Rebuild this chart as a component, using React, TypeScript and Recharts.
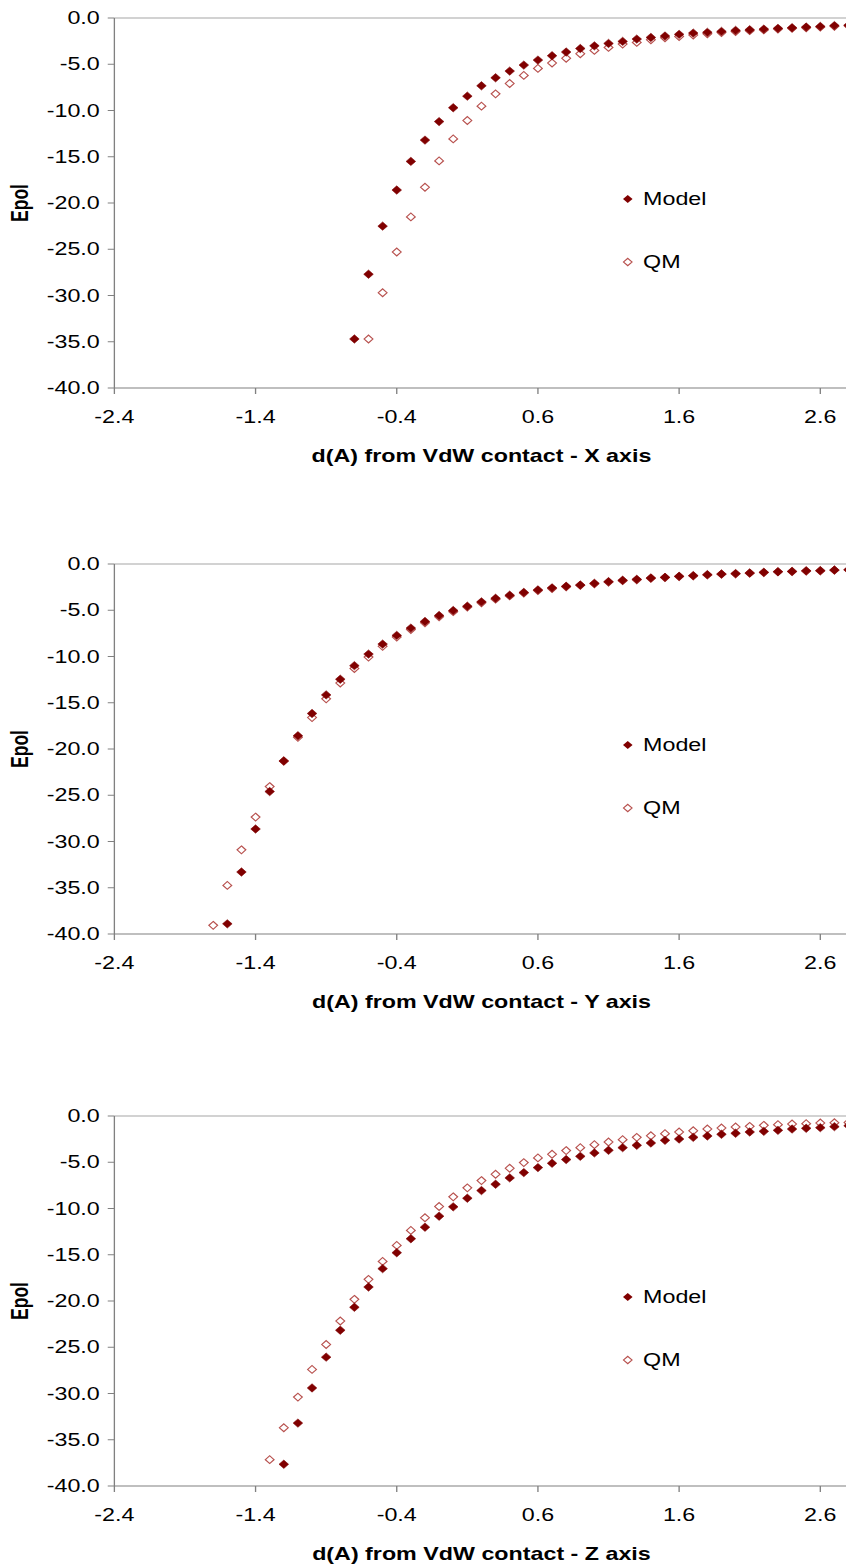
import { Legend, ReferenceLine, Scatter, ScatterChart, XAxis, YAxis } from 'recharts';

// distance from VdW contact (A), shared by all three scans
const dist = [
  -1.7, -1.6, -1.5, -1.4, -1.3, -1.2, -1.1, -1.0, -0.9, -0.8,
  -0.7, -0.6, -0.5, -0.4, -0.3, -0.2, -0.1, 0.0, 0.1, 0.2,
  0.3, 0.4, 0.5, 0.6, 0.7, 0.8, 0.9, 1.0, 1.1, 1.2,
  1.3, 1.4, 1.5, 1.6, 1.7, 1.8, 1.9, 2.0, 2.1, 2.2,
  2.3, 2.4, 2.5, 2.6, 2.7, 2.8,
];

// each series runs out to the last distance; shorter ones start later
const modelX = [
  -34.7, -27.7, -22.5, -18.6, -15.5, -13.2, -11.2, -9.7, -8.45, -7.33,
  -6.46, -5.74, -5.09, -4.55, -4.08, -3.68, -3.3, -3.01, -2.75, -2.53,
  -2.28, -2.1, -1.95, -1.77, -1.63, -1.55, -1.45, -1.34, -1.27, -1.2,
  -1.12, -1.05, -0.98, -0.91, -0.82, -0.78,
];
const qmX = [
  -34.7, -29.7, -25.3, -21.5, -18.3, -15.45, -13.07, -11.08, -9.53, -8.2,
  -7.08, -6.21, -5.45, -4.87, -4.35, -3.87, -3.5, -3.18, -2.82, -2.64,
  -2.35, -2.13, -2.0, -1.84, -1.7, -1.58, -1.46, -1.37, -1.29, -1.2,
  -1.12, -1.05, -0.98, -0.9, -0.85,
];

const modelY = [
  -38.9, -33.3, -28.65, -24.6, -21.3, -18.57, -16.16, -14.15, -12.46, -10.99,
  -9.74, -8.66, -7.72, -6.93, -6.21, -5.57, -5.03, -4.56, -4.09, -3.71,
  -3.37, -3.07, -2.8, -2.58, -2.41, -2.27, -2.09, -1.91, -1.76, -1.66,
  -1.51, -1.44, -1.33, -1.26, -1.15, -1.08, -1.04, -0.97, -0.9, -0.83,
  -0.8, -0.74, -0.72, -0.65, -0.62,
];
const qmY = [
  -39.06, -34.75, -30.9, -27.36, -24.06, -21.3, -18.74, -16.6, -14.58, -12.86,
  -11.3, -10.06, -8.9, -7.9, -7.08, -6.35, -5.7, -5.15, -4.66, -4.2,
  -3.8, -3.45, -3.14, -2.87, -2.65, -2.46, -2.31, -2.13, -1.95, -1.8,
  -1.7, -1.55, -1.47, -1.36, -1.28, -1.18, -1.1, -1.06, -0.99, -0.92,
  -0.85, -0.81, -0.76, -0.73, -0.67, -0.63,
];

const modelZ = [
  -37.65, -33.2, -29.4, -26.07, -23.16, -20.68, -18.49, -16.5, -14.78, -13.27,
  -12.02, -10.83, -9.82, -8.89, -8.06, -7.38, -6.69, -6.12, -5.58, -5.11,
  -4.71, -4.36, -3.99, -3.71, -3.42, -3.17, -2.92, -2.63, -2.49, -2.31,
  -2.16, -1.98, -1.87, -1.73, -1.66, -1.55, -1.41, -1.33, -1.26, -1.15,
  -1.05,
];
const qmZ = [
  -37.15, -33.7, -30.39, -27.4, -24.7, -22.16, -19.82, -17.66, -15.72, -13.99,
  -12.37, -11.0, -9.78, -8.74, -7.77, -6.98, -6.3, -5.65, -5.04, -4.53,
  -4.14, -3.74, -3.42, -3.1, -2.81, -2.56, -2.31, -2.13, -1.91, -1.73,
  -1.59, -1.41, -1.3, -1.19, -1.12, -1.01, -0.94, -0.87, -0.83, -0.76,
  -0.73, -0.7,
];

const xTicks = [-2.4, -1.4, -0.4, 0.6, 1.6, 2.6];
const yTicks = [-40, -35, -30, -25, -20, -15, -10, -5, 0];

const FONT = '"Liberation Sans", Arial, sans-serif';
const MAROON = '#800000';
const QM_RED = '#b8524f';
const AXIS = '#808080';
// the source picture is stretched sideways, text and markers included
const STRETCH = 1.33;

type Pt = { x: number; y: number };

function toPoints(values: number[]): Pt[] {
  const start = dist.length - values.length;
  return values.map((y, i) => ({ x: dist[start + i], y }));
}

function FilledDiamond(props: any) {
  const { cx, cy } = props;
  if (cx == null || cy == null) return null;
  return (
    <polygon
      points={`${cx},${cy - 4.2} ${cx + 3.6},${cy} ${cx},${cy + 4.2} ${cx - 3.6},${cy}`}
      fill={MAROON}
      stroke={MAROON}
      strokeWidth={0.5}
    />
  );
}

function OpenDiamond(props: any) {
  const { cx, cy } = props;
  if (cx == null || cy == null) return null;
  return (
    <polygon
      points={`${cx},${cy - 3.9} ${cx + 3.3},${cy} ${cx},${cy + 3.9} ${cx - 3.3},${cy}`}
      fill="none"
      stroke={QM_RED}
      strokeWidth={1}
    />
  );
}

function LegendBox() {
  const row = { display: 'flex', alignItems: 'center', height: 20 } as const;
  const label = { marginLeft: 5.5, fontSize: 17.5, color: '#000', fontFamily: FONT };
  return (
    <div>
      <div style={row}>
        <svg width={12} height={20}>
          <polygon points="6,6 9.6,10 6,14 2.4,10" fill={MAROON} />
        </svg>
        <span style={label}>Model</span>
      </div>
      <div style={{ ...row, marginTop: 43 }}>
        <svg width={12} height={20}>
          <polygon points="6,6.3 9.2,10 6,13.7 2.8,10" fill="none" stroke={QM_RED} />
        </svg>
        <span style={label}>QM</span>
      </div>
    </div>
  );
}

function PolChart({ top, title, model, qm }: { top: number; title: string; model: number[]; qm: number[] }) {
  return (
    <div style={{ position: 'absolute', left: 0, top, transform: `scaleX(${STRETCH})`, transformOrigin: '0 0' }}>
      <ScatterChart width={640} height={468} margin={{ top: 18, right: 2, bottom: 0, left: 0 }}>
        <XAxis
          type="number"
          dataKey="x"
          domain={[-2.4, 2.8]}
          allowDataOverflow
          ticks={xTicks}
          tickFormatter={(v) => v.toFixed(1)}
          height={80}
          tickSize={6}
          tickMargin={17}
          stroke={AXIS}
          tick={{ fill: '#000', fontSize: 17.5 }}
          label={{
            content: (p: any) => {
              const vb = p.viewBox || { x: 86, y: 388, width: 552 };
              return (
                <text
                  x={vb.x + vb.width / 2}
                  y={vb.y + 68}
                  textAnchor="middle"
                  dominantBaseline="central"
                  fontWeight="bold"
                  fontSize={17.5}
                  fill="#000"
                >
                  {title}
                </text>
              );
            },
          }}
        />
        <YAxis
          type="number"
          dataKey="y"
          domain={[-40, 0]}
          allowDataOverflow
          ticks={yTicks}
          tickFormatter={(v) => v.toFixed(1)}
          width={86}
          tickSize={5}
          tickMargin={6}
          stroke={AXIS}
          tick={{ fill: '#000', fontSize: 17.5 }}
          label={{
            content: (p: any) => {
              const vb = p.viewBox || { x: 0, y: 18, height: 370 };
              const cy = vb.y + vb.height / 2;
              return (
                <text
                  x={15}
                  y={cy}
                  transform={`rotate(-90, 15, ${cy})`}
                  textAnchor="middle"
                  dominantBaseline="central"
                  fontWeight="bold"
                  fontSize={17.5}
                  fill="#000"
                >
                  Epol
                </text>
              );
            },
          }}
        />
        <ReferenceLine y={0} stroke="#a6a6a6" />
        <Scatter name="QM" data={toPoints(qm)} shape={OpenDiamond} isAnimationActive={false} />
        <Scatter name="Model" data={toPoints(model)} shape={FilledDiamond} isAnimationActive={false} />
        <Legend
          layout="vertical"
          align="center"
          verticalAlign="middle"
          wrapperStyle={{ left: 466, top: 189, width: 130 }}
          content={() => <LegendBox />}
        />
      </ScatterChart>
    </div>
  );
}

export default function App() {
  return (
    <div
      style={{
        position: 'absolute',
        left: 0,
        top: 0,
        width: 846,
        height: 1566,
        overflow: 'hidden',
        background: '#fff',
        fontFamily: FONT,
      }}
    >
      <PolChart top={0} title="d(A) from VdW contact - X axis" model={modelX} qm={qmX} />
      <PolChart top={546} title="d(A) from VdW contact - Y axis" model={modelY} qm={qmY} />
      <PolChart top={1098} title="d(A) from VdW contact - Z axis" model={modelZ} qm={qmZ} />
    </div>
  );
}
